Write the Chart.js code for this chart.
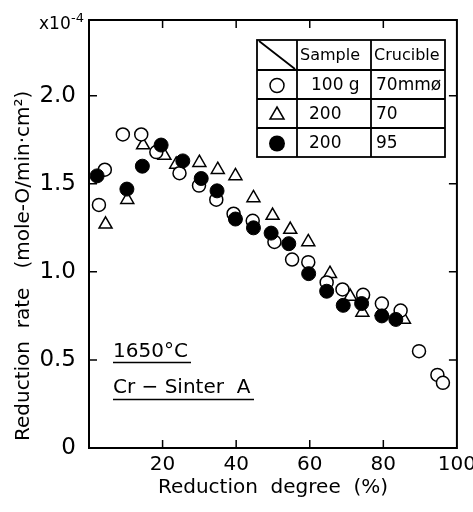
<!DOCTYPE html>
<html>
<head>
<meta charset="utf-8">
<script src="https://cdn.jsdelivr.net/npm/chart.js@4"></script>
<style>
  html, body { margin: 0; padding: 0; background: #fff; }
  #wrap { width: 473px; height: 512px; }
</style>
</head>
<body>
<div id="wrap"><canvas id="myChart" width="473" height="512"></canvas></div>
<script>
const ctx = document.getElementById('myChart').getContext('2d');

const FONT = "'DejaVu Sans', 'Liberation Sans', sans-serif";

// open circles: 100 g, 70 mm crucible
const openX = [2.7, 4.3, 9.2, 14.2, 18.3, 24.6, 29.9, 34.6, 39.3, 44.5, 50.4, 55.2, 59.6, 64.6, 68.9, 74.5, 79.6, 84.7, 89.7, 94.7, 96.2];
const openY = [1.38, 1.58, 1.78, 1.78, 1.68, 1.56, 1.49, 1.41, 1.33, 1.29, 1.17, 1.07, 1.055, 0.94, 0.90, 0.87, 0.82, 0.78, 0.55, 0.415, 0.37];

// triangles: 200 g, 70 crucible
const triX = [4.5, 10.4, 14.7, 20.5, 23.7, 30.0, 35.0, 39.8, 44.7, 49.9, 54.7, 59.6, 65.5, 71.0, 74.3, 79.6, 85.6];
const triY = [1.27, 1.41, 1.72, 1.66, 1.61, 1.62, 1.58, 1.545, 1.42, 1.32, 1.24, 1.17, 0.99, 0.86, 0.77, 0.775, 0.73];

// filled circles: 200 g, 95 crucible
const fillX = [2.2, 10.3, 14.5, 19.6, 25.5, 30.5, 34.8, 39.8, 44.7, 49.5, 54.3, 59.7, 64.6, 69.1, 74.1, 79.6, 83.4];
const fillY = [1.545, 1.47, 1.60, 1.72, 1.63, 1.53, 1.46, 1.30, 1.25, 1.22, 1.16, 0.99, 0.89, 0.81, 0.82, 0.75, 0.73];

const xTicks = [20, 40, 60, 80, 100];
const yTicks = [0, 0.5, 1.0, 1.5, 2.0];

const tableHead = ['Sample', 'Crucible'];
const tableRows = [['100 g', '70mmø'], ['200', '70'], ['200', '95']];

const toPts = (xs, ys) => xs.map((x, i) => ({x: x, y: ys[i]}));

// frame, inward ticks, legend table and the loose labels
const extras = {
    id: 'extras',
    afterDraw(chart) {
        const c = chart.ctx;
        const a = chart.chartArea;
        const sx = chart.scales.x, sy = chart.scales.y;
        c.save();
        c.strokeStyle = '#000';
        c.fillStyle = '#000';
        c.lineWidth = 2;
        c.strokeRect(a.left, a.top, a.right - a.left, a.bottom - a.top);

        c.lineWidth = 1.5;
        c.beginPath();
        xTicks.slice(0, 4).forEach(v => {
            const px = sx.getPixelForValue(v);
            c.moveTo(px, a.bottom); c.lineTo(px, a.bottom - 8);
            c.moveTo(px, a.top); c.lineTo(px, a.top + 8);
        });
        yTicks.slice(1).forEach(v => {
            const py = sy.getPixelForValue(v);
            c.moveTo(a.left, py); c.lineTo(a.left + 8, py);
            c.moveTo(a.right, py); c.lineTo(a.right - 8, py);
        });
        c.stroke();

        // x10^-4
        c.textBaseline = 'alphabetic';
        c.textAlign = 'left';
        c.font = '17px ' + FONT;
        c.fillText('x10', 39, 29);
        c.font = '13px ' + FONT;
        c.fillText('-4', 71, 22);

        // y title
        c.save();
        c.translate(24, 441);
        c.rotate(-Math.PI / 2);
        c.font = '20px ' + FONT;
        c.textBaseline = 'middle';
        c.fillText('Reduction  rate   (mole-O/min·cm²)', 0, 0);
        c.restore();

        // annotation
        c.font = '20px ' + FONT;
        c.fillText('1650°C', 113, 357);
        c.fillText('Cr − Sinter  A', 113, 393);
        c.lineWidth = 1.5;
        c.beginPath();
        c.moveTo(113, 362.5); c.lineTo(191, 362.5);
        c.moveTo(113, 399.5); c.lineTo(254, 399.5);
        c.stroke();

        // legend table
        const L = 257, R = 445, C1 = 297, C2 = 371;
        const rows = [40, 70, 99, 128, 157];
        c.lineWidth = 1.8;
        c.strokeRect(L, rows[0], R - L, rows[4] - rows[0]);
        c.beginPath();
        rows.slice(1, 4).forEach(r => { c.moveTo(L, r); c.lineTo(R, r); });
        c.moveTo(C1, rows[0]); c.lineTo(C1, rows[4]);
        c.moveTo(C2, rows[0]); c.lineTo(C2, rows[4]);
        c.moveTo(L + 2, rows[0] + 1); c.lineTo(C1 - 2, rows[1] - 1);
        c.stroke();

        c.font = '16px ' + FONT;
        c.textBaseline = 'middle';
        c.textAlign = 'left';
        c.fillText(tableHead[0], 300, (rows[0] + rows[1]) / 2 + 1);
        c.fillText(tableHead[1], 374, (rows[0] + rows[1]) / 2 + 1);
        c.font = '17px ' + FONT;
        tableRows.forEach((row, i) => {
            const cy = (rows[i + 1] + rows[i + 2]) / 2 + 1;
            c.fillText(row[0], i === 0 ? 311 : 309, cy);
            c.fillText(row[1], 376, cy);
        });

        const mx = (L + C1) / 2;
        c.lineWidth = 1.5;
        let cy = (rows[1] + rows[2]) / 2 + 1;
        c.beginPath(); c.arc(mx, cy, 7, 0, Math.PI * 2); c.stroke();
        cy = (rows[2] + rows[3]) / 2 + 1.5;
        c.beginPath();
        c.moveTo(mx, cy - 8); c.lineTo(mx + 7, cy + 4); c.lineTo(mx - 7, cy + 4); c.closePath();
        c.stroke();
        cy = (rows[3] + rows[4]) / 2 + 1;
        c.beginPath(); c.arc(mx, cy, 8, 0, Math.PI * 2); c.fill();
        c.restore();
    }
};

const data = {
    datasets: [
        {
            label: '200 / 95',
            data: toPts(fillX, fillY),
            pointStyle: 'circle',
            pointRadius: 7,
            backgroundColor: '#000',
            borderColor: '#000',
            borderWidth: 1,
        },
        {
            label: '100 g / 70mmø',
            data: toPts(openX, openY),
            pointStyle: 'circle',
            pointRadius: 6.5,
            backgroundColor: '#fff',
            borderColor: '#000',
            borderWidth: 1.5,
        },
        {
            label: '200 / 70',
            data: toPts(triX, triY),
            pointStyle: 'triangle',
            pointRadius: 7.5,
            backgroundColor: '#fff',
            borderColor: '#000',
            borderWidth: 1.5,
        },
    ],
};

const config = {
    type: 'scatter',
    data: data,
    options: {
        responsive: false,
        animation: false,
        layout: { padding: { top: 20, right: 15, bottom: 8, left: 0 } },
        plugins: { legend: { display: false }, tooltip: { enabled: false } },
        scales: {
            x: {
                type: 'linear',
                min: 0,
                max: 100,
                afterFit: (s) => { s.height = 56; },
                afterBuildTicks: (s) => { s.ticks = xTicks.map(v => ({value: v})); },
                grid: { display: false },
                border: { display: false },
                ticks: { color: '#000', padding: -3, font: { family: FONT, size: 20 }, maxRotation: 0 },
                title: { display: true, text: 'Reduction  degree  (%)', color: '#000', font: { family: FONT, size: 20 } },
            },
            y: {
                type: 'linear',
                min: 0,
                max: 2.43,
                afterFit: (s) => { s.width = 89; },
                afterBuildTicks: (s) => { s.ticks = yTicks.map(v => ({value: v})); },
                grid: { display: false },
                border: { display: false },
                ticks: {
                    color: '#000',
                    padding: 5,
                    font: { family: FONT, size: 23 },
                    callback: (v) => v === 0 ? '0' : v.toFixed(1),
                },
            },
        },
    },
    plugins: [extras],
};

const myChart = new Chart(ctx, config);
</script>
</body>
</html>
